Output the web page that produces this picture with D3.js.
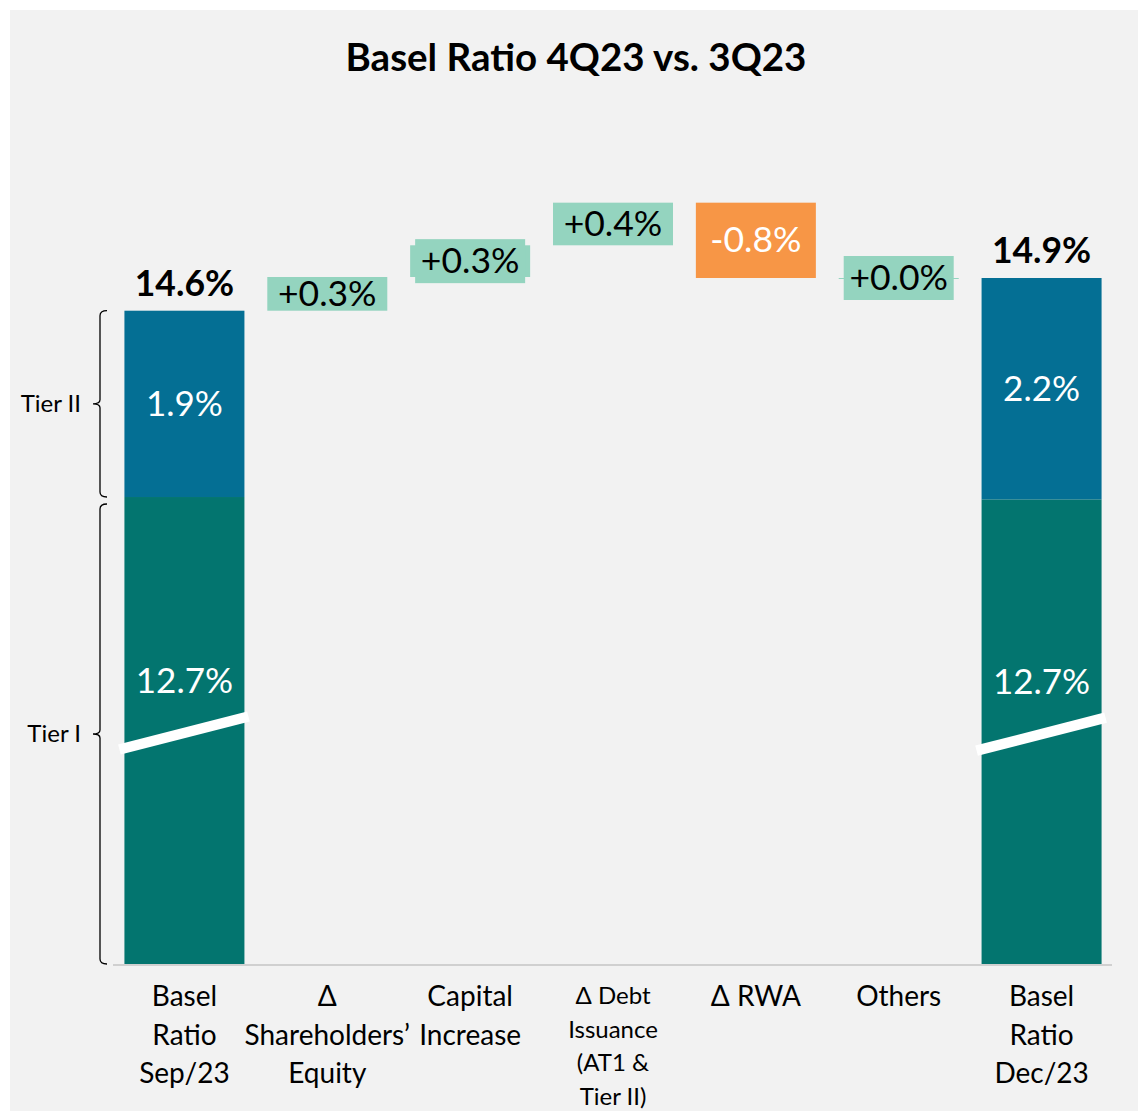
<!DOCTYPE html>
<html><head><meta charset="utf-8">
<script src="https://cdn.jsdelivr.net/npm/d3@7"></script>
<style>
html,body{margin:0;padding:0;background:#fff;}
text{font-family:Lato,"Open Sans",sans-serif;}
</style></head>
<body>
<svg id="chart" width="1138" height="1111"></svg>
<script>
// ---- data ----
const categories = ["Sep/23","ΔEquity","Capital","ΔDebt","ΔRWA","Others","Dec/23"];
const tickLabels = [["Basel","Ratio","Sep/23"],["Δ","Shareholders’","Equity"],["Capital","Increase"],["Δ Debt","Issuance","(AT1 &","Tier II)"],["Δ RWA"],["Others"],["Basel","Ratio","Dec/23"]];
const tier1 = [12.72, 12.69];   // Sep/23, Dec/23
const tier2 = [1.88, 2.24];     // Sep/23, Dec/23
const deltas = [0.34, 0.32, 0.43, -0.76, 0.00];
const tierNames = ["Tier II","Tier I"];
const title = "Basel Ratio 4Q23 vs. 3Q23";

const COL_T1 = "#03756f", COL_T2 = "#046f94", COL_UP = "#94d4bf", COL_DN = "#f79646";

const svg = d3.select("#chart");
svg.append("rect").attr("x",10).attr("y",10).attr("width",1128).attr("height",1101).attr("fill","#f2f2f2");

svg.append("text").attr("x",576).attr("y",71).attr("text-anchor","middle")
  .attr("font-size",38.5).attr("font-weight",700).attr("fill","#000").text(title);

const x = d3.scaleBand().domain(categories).range([113,1113]).paddingInner(0.16).paddingOuter(0.08);
// broken value axis: lower part compressed
const y = d3.scaleLinear().domain([0, 12.7, 14.93]).range([964, 499, 278]);
const bw = x.bandwidth();

const totals = [
  {cat: categories[0], t1: tier1[0], t2: tier2[0]},
  {cat: categories[6], t1: tier1[1], t2: tier2[1]}
];
const fmt1 = v => v.toFixed(1) + "%";
const fmtD = v => (v < 0 ? "-" : "+") + Math.abs(v).toFixed(1) + "%";

totals.forEach(d => {
  const gx = x(d.cat);
  svg.append("rect").attr("x",gx).attr("width",bw).attr("y",y(d.t1)).attr("height",y(0)-y(d.t1)).attr("fill",COL_T1);
  svg.append("rect").attr("x",gx).attr("width",bw).attr("y",y(d.t1+d.t2)).attr("height",y(d.t1)-y(d.t1+d.t2)).attr("fill",COL_T2);
  const mid = (y(0)+y(d.t1))/2 + 2;
  svg.append("line").attr("x1",gx-5).attr("y1",mid+17).attr("x2",gx+bw+4).attr("y2",mid-16)
    .attr("stroke","#fff").attr("stroke-width",10.5);
  svg.append("text").attr("x",gx+bw/2).attr("y",mid-40).attr("text-anchor","middle")
    .attr("font-size",35).attr("fill","#fff").text(fmt1(d.t1));
  const m2 = (y(d.t1)+y(d.t1+d.t2))/2;
  svg.append("text").attr("x",gx+bw/2).attr("y",m2+12).attr("text-anchor","middle")
    .attr("font-size",35).attr("fill","#fff").text(fmt1(d.t2));
  svg.append("text").attr("x",gx+bw/2).attr("y",y(d.t1+d.t2)-15).attr("text-anchor","middle")
    .attr("font-size",35.5).attr("font-weight",700).attr("fill","#000").text(fmt1(+(d.t1+d.t2).toFixed(2)));
});

// waterfall steps
let run = tier1[0] + tier2[0];
deltas.forEach((v,i) => {
  const cat = categories[i+1];
  const a = run, b = run + v;
  run = b;
  const gx = x(cat);
  const top = y(Math.max(a,b)), bot = y(Math.min(a,b));
  const cy = (top+bot)/2;
  if (v >= 0) {
    svg.append("rect").attr("x",gx).attr("width",bw).attr("y",top).attr("height",Math.max(bot-top,1)).attr("fill",COL_UP);
    if (bot - top < 33) {
      svg.append("rect").attr("x",gx+5).attr("width",bw-10).attr("y",cy-22).attr("height",44).attr("fill",COL_UP);
    }
    svg.append("text").attr("x",gx+bw/2).attr("y",cy+12).attr("text-anchor","middle")
      .attr("font-size",35.5).attr("fill","#000").text(fmtD(v));
  } else {
    svg.append("rect").attr("x",gx).attr("width",bw).attr("y",top).attr("height",bot-top).attr("fill",COL_DN);
    svg.append("text").attr("x",gx+bw/2).attr("y",cy+12).attr("text-anchor","middle")
      .attr("font-size",35.5).attr("fill","#fff").text(fmtD(v));
  }
});

// x axis
const ax = svg.append("g").attr("transform",`translate(0,${y(0)+1})`)
  .call(d3.axisBottom(x).tickSize(0).tickFormat(""));
ax.select(".domain").attr("stroke","#d0d0d0").attr("stroke-width",2).attr("d","M113,0H1112");
ax.selectAll(".tick").each(function(c,i){
  const lines = tickLabels[i];
  const small = lines.length > 3;
  const fs = small ? 24 : 28, lh = small ? 33.7 : 38.5, y0 = small ? 39 : 41;
  const t = d3.select(this).select("text").attr("font-size",fs).attr("fill","#000")
    .attr("y",null).attr("dy",null).attr("font-family","Lato,'Open Sans',sans-serif");
  lines.forEach((s,k)=>{
    t.append("tspan").attr("x",0).attr("y",y0+k*lh).text(s);
  });
});

// tier brackets
const bx = 100;
function bracket(y1, y2, label){
  const m = (y1+y2)/2;
  const p = d3.path();
  p.moveTo(bx+7,y1); p.quadraticCurveTo(bx,y1,bx,y1+5);
  p.lineTo(bx,m-4); p.quadraticCurveTo(bx,m,bx-7,m); p.quadraticCurveTo(bx,m,bx,m+4);
  p.lineTo(bx,y2-5); p.quadraticCurveTo(bx,y2,bx+7,y2);
  svg.append("path").attr("d",p.toString()).attr("fill","none").attr("stroke","#000").attr("stroke-width",1.3);
  svg.append("text").attr("x",81).attr("y",m+8).attr("text-anchor","end").attr("font-size",24).attr("fill","#000").text(label);
}
bracket(y(tier1[0]+tier2[0]), y(tier1[0]), tierNames[0]);
bracket(y(tier1[0])+7, y(0), tierNames[1]);
</script>
</body></html>
